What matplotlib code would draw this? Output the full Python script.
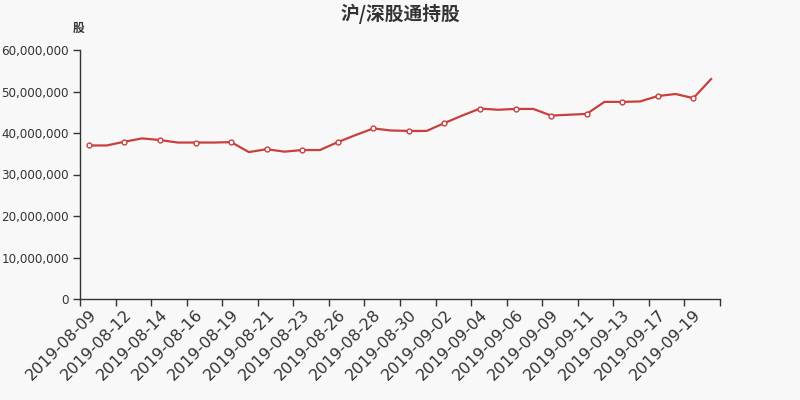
import matplotlib
matplotlib.use("Agg")
import matplotlib.pyplot as plt
import matplotlib.transforms as mtransforms
from matplotlib.ticker import FuncFormatter, MultipleLocator, FixedLocator

plt.rcParams['font.family'] = ['DejaVu Sans', 'Noto Sans CJK SC']

# data
dates = [
    "2019-08-09", "2019-08-10", "2019-08-12", "2019-08-13", "2019-08-14", "2019-08-15",
    "2019-08-16", "2019-08-18", "2019-08-19", "2019-08-20", "2019-08-21", "2019-08-22",
    "2019-08-23", "2019-08-25", "2019-08-26", "2019-08-27", "2019-08-28", "2019-08-29",
    "2019-08-30", "2019-09-01", "2019-09-02", "2019-09-03", "2019-09-04", "2019-09-05",
    "2019-09-06", "2019-09-08", "2019-09-09", "2019-09-10", "2019-09-11", "2019-09-12",
    "2019-09-13", "2019-09-16", "2019-09-17", "2019-09-18", "2019-09-19", "2019-09-20",
]
shares = [
    37.0, 37.0, 37.9, 38.7, 38.3, 37.7,
    37.7, 37.7, 37.8, 35.4, 36.1, 35.5,
    35.9, 35.9, 37.8, 39.5, 41.1, 40.6,
    40.5, 40.5, 42.4, 44.2, 45.9, 45.6,
    45.8, 45.8, 44.2, 44.4, 44.6, 47.5,
    47.5, 47.6, 48.9, 49.4, 48.4, 53.0,
]
shares = [v * 1e6 for v in shares]

title = "沪/深股通持股"
unit = "股"

red = "#c8403d"
ink = "#333333"
bg = "#f8f8f8"

fig = plt.figure(figsize=(8, 4), dpi=100, facecolor=bg)
ax = fig.add_axes([0.1, 0.2525, 0.8, 0.6225], facecolor=bg)

xs = list(range(len(dates)))
ax.plot(xs, shares, color=red, linewidth=1.6, marker="o", markevery=2,
        markersize=3.5, markerfacecolor="white", markeredgecolor=red,
        markeredgewidth=1.0, solid_joinstyle="round", zorder=3)

ax.set_xlim(-0.5, len(dates) - 0.5)
ax.set_ylim(0, 60e6)

# ticks on band edges, labels at band centres
ax.xaxis.set_major_locator(FixedLocator([i - 0.5 for i in range(0, len(dates) + 1, 2)]))
ax.xaxis.set_major_formatter(FuncFormatter(lambda v, p: ""))
ax.xaxis.set_minor_locator(FixedLocator(list(range(0, len(dates), 2))))
labels = ax.set_xticklabels([dates[i] for i in range(0, len(dates), 2)], minor=True,
                            rotation=45, ha="right", va="top", rotation_mode="anchor",
                            fontsize=11.5, color=ink)
shift = mtransforms.ScaledTranslation(-5 / 100, 0, fig.dpi_scale_trans)
for lab in labels:
    lab.set_transform(lab.get_transform() + shift)
ax.tick_params(axis="x", which="major", length=5, width=1, color=ink)
ax.tick_params(axis="x", which="minor", length=0, pad=6)

ax.yaxis.set_major_locator(MultipleLocator(10e6))
ax.yaxis.set_major_formatter(FuncFormatter(lambda v, p: f"{int(v):,}"))
ax.tick_params(axis="y", length=5, width=1, color=ink, labelsize=8.6, labelcolor=ink, pad=3)

for side in ("top", "right"):
    ax.spines[side].set_visible(False)
for side in ("left", "bottom"):
    ax.spines[side].set_color(ink)
    ax.spines[side].set_linewidth(1)

fig.text(0.5, 0.965, title, ha="center", va="center", fontsize=13.5,
         fontweight="bold", color=ink, family=["Noto Sans CJK SC", "DejaVu Sans"])
fig.text(0.098, 0.928, unit, ha="center", va="center", fontsize=8.5,
         fontweight="bold", color=ink, family=["Noto Sans CJK SC", "DejaVu Sans"])

fig.savefig("out.png", dpi=100, facecolor=bg)
